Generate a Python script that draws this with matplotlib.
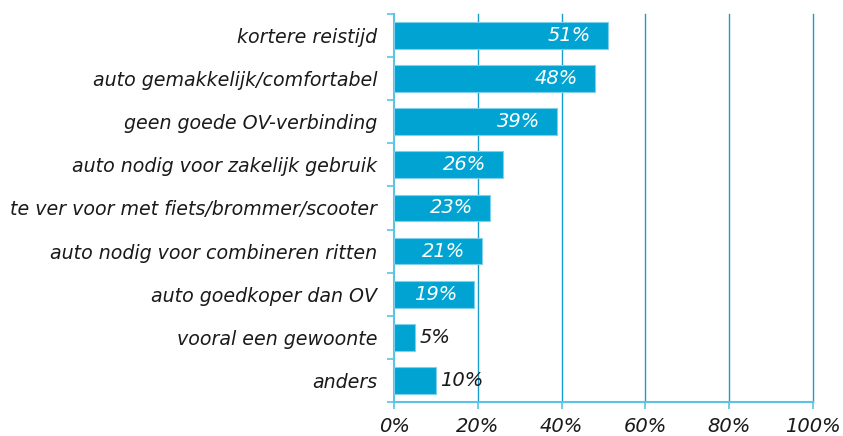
import matplotlib.pyplot as plt
import numpy as np

categories = ["kortere reistijd", "auto gemakkelijk/comfortabel", "geen goede OV-verbinding",
              "auto nodig voor zakelijk gebruik", "te ver voor met fiets/brommer/scooter",
              "auto nodig voor combineren ritten", "auto goedkoper dan OV",
              "vooral een gewoonte", "anders"]
values = [51, 48, 39, 26, 23, 21, 19, 5, 10]
xticks = [0, 20, 40, 60, 80, 100]

bar_color = "#00A3D1"
grid_color = "#1A9CCB"
spine_color = "#5BC3E6"
fs = 14

fig = plt.figure(figsize=(8.43, 4.36), dpi=100)
ax = fig.add_axes([0.4674, 0.078, 0.4970, 0.890])

y = np.arange(len(categories))
ax.barh(y, values, height=0.62, color=bar_color, edgecolor="#7FD0EA", linewidth=0.8, zorder=3)

for yi, v in zip(y, values):
    if v >= 15:
        ax.text(v - 4, yi, f"{v}%", ha="right", va="center", color="white",
                fontsize=fs, style="italic", zorder=4)
    else:
        ax.text(v + 1, yi, f"{v}%", ha="left", va="center", color="#1a1a1a",
                fontsize=fs, style="italic", zorder=4)

ax.set_xlim(0, 100)
ax.set_ylim(len(categories) - 0.5, -0.5)
ax.set_xticks(xticks)
ax.set_xticklabels([f"{t}%" for t in xticks], fontsize=fs, style="italic", color="#1a1a1a")
ax.set_yticks(y)
ax.set_yticklabels(categories, fontsize=13.7, style="italic", color="#1a1a1a")
ax.set_yticks(np.arange(-0.5, len(categories), 1), minor=True)

ax.tick_params(axis="y", which="major", length=0, pad=12)
ax.tick_params(axis="y", which="minor", length=5, color=spine_color, width=1.2)
ax.tick_params(axis="x", length=5, color=spine_color, width=1.2, pad=6)

for x in xticks[1:]:
    ax.axvline(x, color=grid_color, linewidth=1, zorder=1, clip_on=False)

ax.spines["top"].set_visible(False)
ax.spines["right"].set_visible(False)
ax.spines["left"].set_color(spine_color)
ax.spines["bottom"].set_color(spine_color)
ax.spines["left"].set_linewidth(1.5)
ax.spines["bottom"].set_linewidth(1.5)

fig.savefig("out.png", dpi=100)
